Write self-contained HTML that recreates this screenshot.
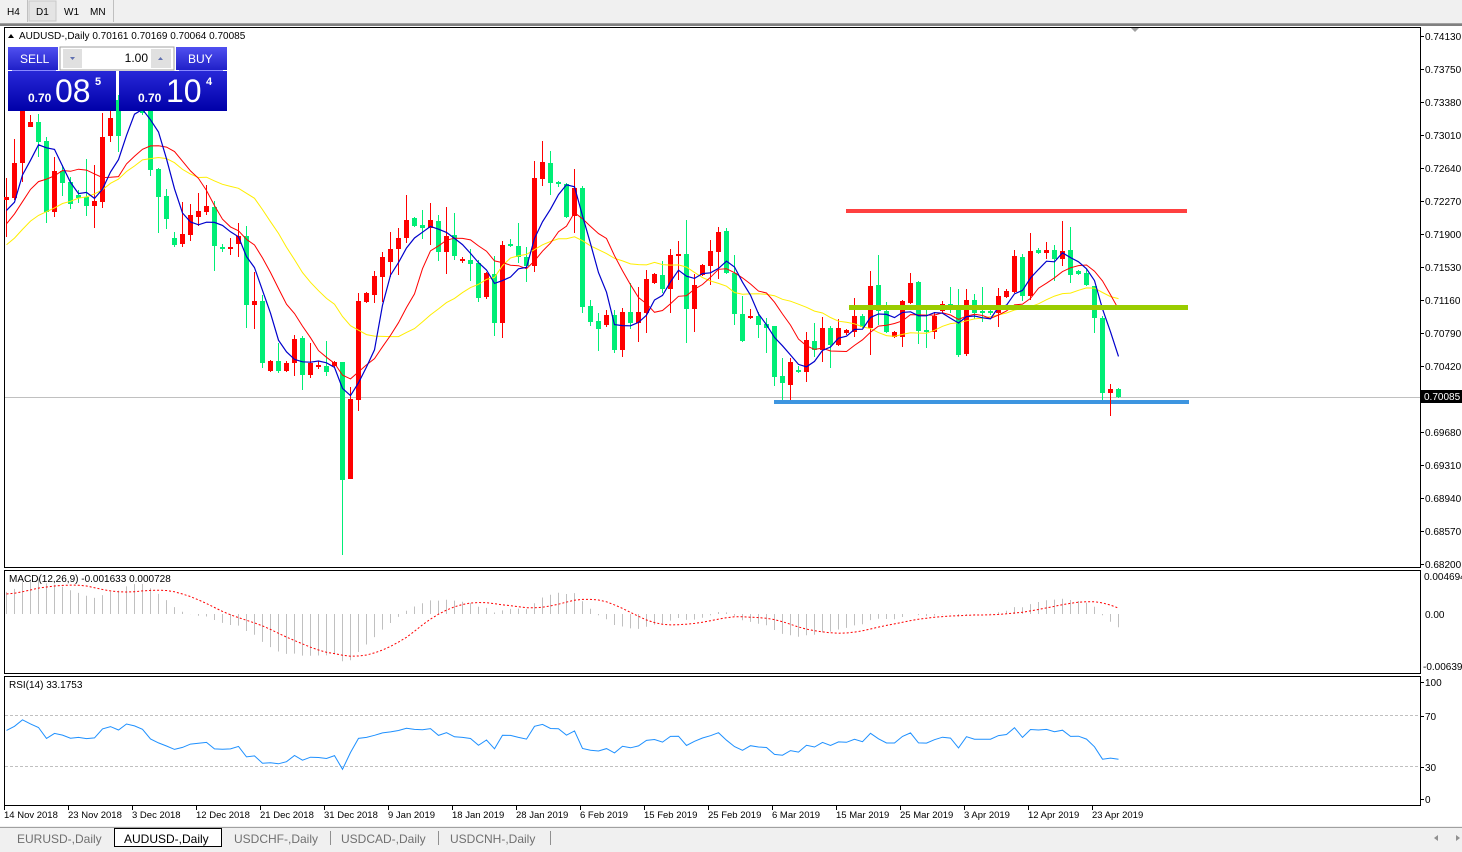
<!DOCTYPE html>
<html><head><meta charset="utf-8"><style>
html,body{margin:0;padding:0;background:#fff;width:1462px;height:852px;overflow:hidden}
svg{display:block;font-family:"Liberation Sans",sans-serif}
</style></head><body>
<svg id="s" width="1462" height="852" xmlns="http://www.w3.org/2000/svg">
<rect x="0" y="0" width="1462" height="24" fill="#f0f0f0"/>
<line x1="0" y1="23.5" x2="1462" y2="23.5" stroke="#a0a0a0"/>
<line x1="27.5" y1="0" x2="27.5" y2="22" stroke="#c0c0c0"/>
<rect x="29" y="1" width="27" height="20" fill="#e4e4e4" stroke="#c8c8c8"/>
<line x1="113.5" y1="0" x2="113.5" y2="22" stroke="#c0c0c0"/>
<g font-size="10" fill="#000"><text x="7" y="15">H4</text><text x="36" y="15">D1</text><text x="64" y="15">W1</text><text x="90" y="15">MN</text></g>
<rect x="0" y="24" width="1462" height="2" fill="#808080"/>
<rect x="4.5" y="27.5" width="1416" height="540" fill="#fff" stroke="#000"/>
<rect x="4.5" y="570.5" width="1416" height="103" fill="#fff" stroke="#000"/>
<rect x="4.5" y="676.5" width="1416" height="129" fill="#fff" stroke="#000"/>
<g id="g"></g>
<polygon points="1131,28 1139,28 1135,32" fill="#a0a0a0"/>
<g>
<rect x="8" y="47" width="50" height="23" fill="url(#bt)"/>
<text x="20" y="63" font-size="12" fill="#fff">SELL</text>
<rect x="60" y="47" width="114" height="23" fill="#fff" stroke="#a0a0a0"/>
<rect x="63" y="49" width="19" height="19" fill="#e0e0e0"/>
<rect x="151" y="49" width="20" height="19" fill="#e0e0e0"/>
<polygon points="70,57 75,57 72.5,60" fill="#6070b0"/>
<polygon points="158,60 163,60 160.5,57" fill="#6070b0"/>
<text x="148" y="62" font-size="12" text-anchor="end" fill="#000">1.00</text>
<rect x="176" y="47" width="51" height="23" fill="url(#bt)"/>
<text x="188" y="63" font-size="12" fill="#fff">BUY</text>
<rect x="8" y="71" width="108" height="40" fill="url(#bb)"/>
<rect x="119" y="71" width="108" height="40" fill="url(#bb)"/>
<line x1="12" y1="70.5" x2="56" y2="70.5" stroke="#8888ff"/>
<line x1="179" y1="70.5" x2="223" y2="70.5" stroke="#8888ff"/>
<g fill="#fff"><text x="28" y="102" font-size="12" font-weight="bold">0.70</text><text x="55" y="102" font-size="32">08</text><text x="95" y="85" font-size="11" font-weight="bold">5</text>
<text x="138" y="102" font-size="12" font-weight="bold">0.70</text><text x="166" y="102" font-size="32">10</text><text x="206" y="85" font-size="11" font-weight="bold">4</text></g>
</g>
<defs>
<linearGradient id="bt" x1="0" y1="0" x2="0" y2="1"><stop offset="0" stop-color="#5050f0"/><stop offset="1" stop-color="#2020c8"/></linearGradient>
<linearGradient id="bb" x1="0" y1="0" x2="0" y2="1"><stop offset="0" stop-color="#2828d8"/><stop offset="1" stop-color="#0000a8"/></linearGradient>
</defs>
<polygon points="8,38 14,38 11,34" fill="#000"/>
<text x="19" y="39" font-size="10" fill="#000">AUDUSD-,Daily  0.70161 0.70169 0.70064 0.70085</text>
<text x="9" y="582" font-size="10" fill="#000">MACD(12,26,9) -0.001633 0.000728</text>
<text x="9" y="688" font-size="10" fill="#000">RSI(14) 33.1753</text>
<rect x="0" y="826" width="1462" height="26" fill="#f0f0f0"/>
<line x1="0" y1="827.5" x2="1462" y2="827.5" stroke="#a0a0a0"/>
<rect x="114.5" y="828.5" width="107" height="18" fill="#fff" stroke="#000"/>
<g font-size="12" fill="#707070"><text x="17" y="843">EURUSD-,Daily</text><text x="124" y="843" fill="#000">AUDUSD-,Daily</text><text x="234" y="843">USDCHF-,Daily</text><text x="341" y="843">USDCAD-,Daily</text><text x="450" y="843">USDCNH-,Daily</text></g>
<g stroke="#909090"><line x1="330.5" y1="831" x2="330.5" y2="845"/><line x1="438.5" y1="831" x2="438.5" y2="845"/><line x1="550.5" y1="831" x2="550.5" y2="845"/></g>
<polygon points="1434,838 1438,835 1438,841" fill="#909090"/><polygon points="1456,835 1456,841 1460,838" fill="#909090"/>
</svg>
<script>
const D=[
['r',197,200,178,237],['r',163,198,139,200],['r',100,163,95,182],['r',122,127,115,127],['g',122,142,114,157],['g',141,212,137,223],['r',171,212,157,217],['g',171,183,165,196],['g',182,204,177,209],['g',195,198,190,203],
['g',197,206,159,216],['r',201,206,165,228],['r',137,202,113,208],['r',118,136,105,142],['g',100,136,95,152],['r',85,100,80,105],['g',85,95,80,100],['g',90,113,85,115],['g',100,170,95,176],['g',169,197,168,233],
['g',196,219,189,229],['g',238,245,232,247],['r',234,244,202,247],['r',215,235,204,241],['r',211,217,193,226],['r',206,212,185,215],['g',207,246,201,271],['g',247,249,244,252],['r',247,249,238,255],['r',236,244,223,257],
['g',236,305,226,328],['r',301,305,272,329],['g',301,363,295,368],['r',361,371,360,372],['g',361,371,343,373],['r',363,371,361,372],['r',339,363,335,376],['g',338,375,336,390],['r',363,375,343,378],['r',365,367,361,369],
['g',366,372,341,376],['r',362,366,361,367],['g',362,480,362,555],['r',399,479,387,479],['r',301,400,293,411],['r',293,302,292,303],['r',276,295,271,303],['r',257,277,252,302],['r',249,262,232,277],['r',238,249,228,275],
['r',220,238,195,243],['g',218,226,217,227],['g',225,228,210,239],['r',220,228,203,245],['g',221,252,215,261],['r',236,252,207,274],['g',235,256,213,260],['r',259,261,257,263],['g',260,264,249,281],['g',263,298,260,302],
['r',273,297,272,299],['g',274,323,256,336],['r',245,323,241,338],['g',244,246,239,247],['g',246,257,223,263],['g',257,266,247,282],['r',178,266,161,272],['r',162,179,141,186],['g',163,183,151,195],['g',182,184,181,187],
['g',184,217,183,218],['r',188,216,169,233],['g',188,307,186,313],['g',306,322,300,326],['g',321,329,313,351],['r',315,325,310,327],['g',315,350,310,353],['r',312,350,308,357],['g',312,323,283,329],['r',312,323,287,342],
['r',279,313,270,333],['r',274,283,273,284],['g',275,289,261,293],['r',255,289,249,313],['r',254,256,241,280],['g',254,309,220,343],['r',285,309,274,332],['r',265,275,264,276],['r',251,266,240,285],['r',232,252,227,279],
['g',231,273,228,274],['g',273,314,255,325],['g',314,341,296,342],['r',316,318,309,319],['g',316,325,312,338],['g',324,328,318,353],['g',326,377,326,386],['g',376,383,358,400],['r',362,385,358,400],['g',370,372,366,373],
['r',340,372,332,382],['g',341,350,323,357],['r',328,350,317,362],['g',328,345,326,368],['r',328,345,319,346],['r',330,333,329,335],['r',316,332,298,337],['g',316,327,314,328],['r',286,328,271,355],['g',285,311,255,325],
['g',311,332,302,333],['r',332,337,331,338],['r',301,337,300,347],['r',283,303,273,304],['g',282,331,281,344],['g',330,332,306,348],['r',316,332,312,339],['r',304,311,301,313],['g',304,308,287,313],['g',308,355,289,357],
['r',300,354,289,356],['g',300,313,294,319],['g',311,313,287,322],['g',311,313,309,315],['r',296,313,288,327],['r',291,297,289,298],['r',256,292,250,293],['g',257,296,254,301],['r',251,296,233,300],['g',250,253,248,254],
['r',250,253,242,259],['g',250,259,245,281],['r',251,259,221,266],['g',250,275,227,283],['g',271,274,270,275],['g',273,285,269,286],['g',286,318,286,333],['g',318,393,316,400],['r',389,393,384,416],['g',389,397,388,398]];
const X=i=>6+8*i, G='#00ee76', R='#ff0000';
let h='';
const P=y=>0.7413-(y-36)/8918.9;
h+='<line x1="5" y1="397.5" x2="1420" y2="397.5" stroke="#c0c0c0"/>';
h+='<rect x="774" y="400" width="415" height="4" fill="#3d95e0"/>';
const pad=[];for(let k=0;k<30;k++)pad.push(330-k*4.3+(k%2?14:-14)+(k%3==0?8:0));
const C=pad.concat(D.map(d=>d[0]=='g'?d[2]:d[1]));
const N=pad.length;
function sma(n){return C.map((v,i)=>{let s=0,c=0;for(let j=Math.max(0,i-n+1);j<=i;j++){s+=C[j];c++}return s/c})}
function rsi(){let ag=0,al=0,out=[];for(let i=1;i<C.length;i++){let ch=P(C[i])-P(C[i-1]);let g=ch>0?ch:0,l=ch<0?-ch:0;if(i<=14){ag+=g/14;al+=l/14}else{ag=(ag*13+g)/14;al=(al*13+l)/14}out[i]=al==0?100:100-100/(1+ag/al)}return out}
function ema(n){let a=2/(n+1),e=P(C[0]),o=[];C.forEach((v,i)=>{e=i?e+a*(P(v)-e):e;o.push(e)});return o}
const e12=ema(12),e26=ema(26),M=e12.map((v,i)=>v-e26[i]);
const S=M.map((v,i)=>{let s=0,c=0;for(let j=Math.max(0,i-8);j<=i;j++){s+=M[j];c++}return s/c});
D.forEach((d,i)=>{const x=X(i),c=d[0]=='g'?G:R;
h+=`<line x1="${x+.5}" y1="${d[3]}" x2="${x+.5}" y2="${d[4]}" stroke="${c}"/>`;
h+=`<rect x="${x-2}" y="${d[1]}" width="5" height="${Math.max(1,d[2]-d[1])}" fill="${c}"/>`;});
function line(arr,col,w){let p=[];for(let i=N;i<arr.length;i++)p.push(X(i-N)+.5+','+arr[i].toFixed(1));return `<polyline points="${p.join(' ')}" fill="none" stroke="${col}" stroke-width="${w}"/>`}
h+=line(sma(20),'#ffee00',1)+line(sma(10),'#ff0000',1)+line(sma(5),'#0000cc',1.2);
h+='<rect x="846" y="209" width="341" height="4" fill="#ff4040"/>';
h+='<rect x="849" y="305" width="339" height="5" fill="#99cc00"/>';
let sp=[];
for(let i=N;i<C.length;i++){const x=X(i-N)+.5,y=614-M[i]*8095;h+=`<line x1="${x}" y1="614" x2="${x}" y2="${y.toFixed(1)}" stroke="#c0c0c0"/>`;sp.push(x+','+(614-S[i]*8095).toFixed(1))}
h+=`<polyline points="${sp.join(' ')}" fill="none" stroke="#ff0000" stroke-dasharray="2,2"/>`;
const r=rsi();let rp=[];for(let i=N;i<C.length;i++)rp.push((X(i-N)+.5)+','+(798-Math.min(r[i],68)*1.16).toFixed(1));
h+='<line x1="5" y1="715.5" x2="1420" y2="715.5" stroke="#c0c0c0" stroke-dasharray="3,2"/><line x1="5" y1="766.5" x2="1420" y2="766.5" stroke="#c0c0c0" stroke-dasharray="3,2"/>';
h+=`<polyline points="${rp.join(' ')}" fill="none" stroke="#1e90ff"/>`;
const pl=['0.74130','0.73750','0.73380','0.73010','0.72640','0.72270','0.71900','0.71530','0.71160','0.70790','0.70420',null,'0.69680','0.69310','0.68940','0.68570','0.68200'];
pl.forEach((t,k)=>{if(!t)return;const y=36+33*k;h+=`<line x1="1420" y1="${y+.5}" x2="1424" y2="${y+.5}" stroke="#000"/><text x="1425" y="${y+4}" font-size="10">${t}</text>`});
h+='<rect x="1421" y="390" width="41" height="13" fill="#000"/><text x="1424" y="400" font-size="10" fill="#fff">0.70085</text>';
h+='<text x="1424" y="580" font-size="10">0.004694</text><text x="1425" y="618" font-size="10">0.00</text><text x="1423" y="670" font-size="10">-0.00639</text>';
[[100,682],[70,716],[30,767],[0,799]].forEach(a=>{h+=`<text x="1425" y="${a[1]+4}" font-size="10">${a[0]}</text><line x1="1420" y1="${a[1]+.5}" x2="1424" y2="${a[1]+.5}" stroke="#000"/>`});
const dl=['14 Nov 2018','23 Nov 2018','3 Dec 2018','12 Dec 2018','21 Dec 2018','31 Dec 2018','9 Jan 2019','18 Jan 2019','28 Jan 2019','6 Feb 2019','15 Feb 2019','25 Feb 2019','6 Mar 2019','15 Mar 2019','25 Mar 2019','3 Apr 2019','12 Apr 2019','23 Apr 2019'];
dl.forEach((t,k)=>{const x=4+64*k;h+=`<line x1="${x+.5}" y1="806" x2="${x+.5}" y2="810" stroke="#000"/><text x="${x}" y="818" font-size="9.5">${t}</text>`});
document.getElementById('g').innerHTML=h;
</script>
</body></html>
